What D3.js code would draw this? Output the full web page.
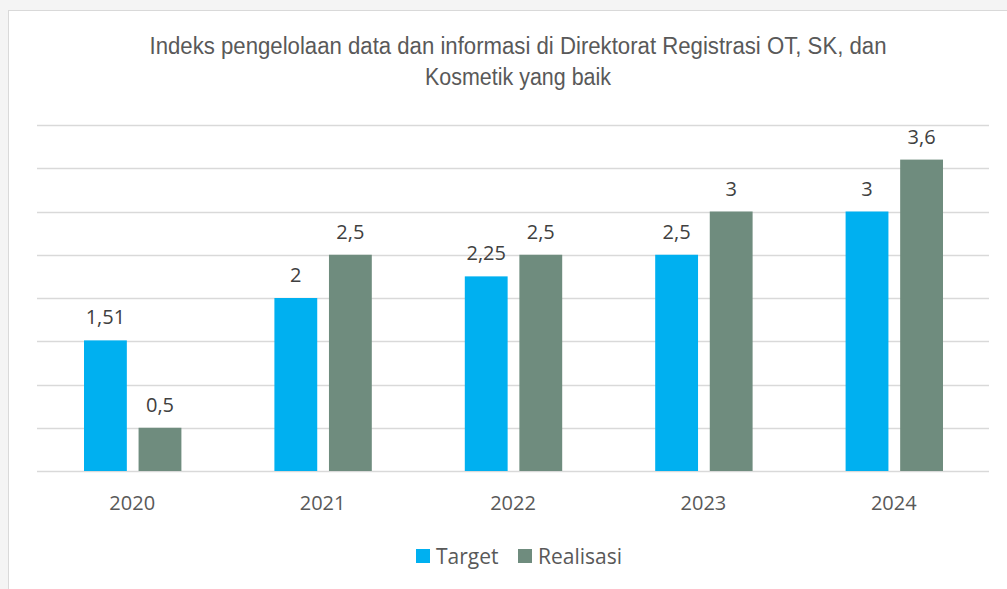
<!DOCTYPE html>
<html>
<head>
<meta charset="utf-8">
<script src="https://cdn.jsdelivr.net/npm/d3@7"></script>
<style>
  body { margin: 0; background: #f4f4f4; }
  svg { display: block; }
</style>
</head>
<body>
<script>
// data
const years = ['2020', '2021', '2022', '2023', '2024'];
const target = [1.51, 2, 2.25, 2.5, 3];
const realisasi = [0.5, 2.5, 2.5, 3, 3.6];
const targetLabels = ['1,51', '2', '2,25', '2,5', '3'];
const realisasiLabels = ['0,5', '2,5', '2,5', '3', '3,6'];
const gridTicks = [0, 0.5, 1, 1.5, 2, 2.5, 3, 3.5, 4];

const series = [
  { name: 'Target', values: target, labels: targetLabels, color: '#00B0F0' },
  { name: 'Realisasi', values: realisasi, labels: realisasiLabels, color: '#6F8C7E' }
];

const W = 1007, H = 589;
const margin = { top: 125, right: 18, bottom: 118, left: 37 };
const width = W - margin.left - margin.right;
const height = H - margin.top - margin.bottom;

const svg = d3.select('body').append('svg')
    .attr('width', W)
    .attr('height', H);

// chart area background + border
svg.append('rect')
    .attr('x', 8.5).attr('y', 10.5)
    .attr('width', W + 10).attr('height', H + 10)
    .attr('fill', '#fff')
    .attr('stroke', '#d9d9d9');

const title = svg.append('g')
    .attr('font-family', 'Liberation Sans, Arial, sans-serif')
    .attr('font-size', 23)
    .attr('fill', '#595959')
    .attr('text-anchor', 'middle');

title.append('text')
    .attr('x', 518).attr('y', 54)
    .attr('textLength', 737)
    .attr('lengthAdjust', 'spacingAndGlyphs')
    .text('Indeks pengelolaan data dan informasi di Direktorat Registrasi OT, SK, dan');

title.append('text')
    .attr('x', 518).attr('y', 85)
    .attr('textLength', 186)
    .attr('lengthAdjust', 'spacingAndGlyphs')
    .text('Kosmetik yang baik');

const g = svg.append('g')
    .attr('transform', `translate(${margin.left}, ${margin.top})`);

const x = d3.scaleBand()
    .domain(years)
    .range([0, width]);

const x1 = d3.scaleBand()
    .domain(series.map(s => s.name))
    .range([47, x.bandwidth() - 46])
    .paddingInner(0.215);

const y = d3.scaleLinear()
    .domain([0, 4])
    .range([height, 0]);

// gridlines
g.append('g')
    .selectAll('line')
    .data(gridTicks)
  .join('line')
    .attr('x1', 0)
    .attr('x2', width)
    .attr('y1', d => Math.round(y(d)) + 0.5)
    .attr('y2', d => Math.round(y(d)) + 0.5)
    .attr('stroke', '#d9d9d9')
    .attr('stroke-width', 1.5);

const groups = g.selectAll('.year')
    .data(years)
  .join('g')
    .attr('class', 'year')
    .attr('transform', d => `translate(${x(d)}, 0)`);

groups.selectAll('rect')
    .data((d, i) => series.map(s => ({ s, v: s.values[i], label: s.labels[i] })))
  .join('rect')
    .attr('x', d => x1(d.s.name))
    .attr('width', x1.bandwidth())
    .attr('y', d => y(d.v))
    .attr('height', d => y(0) - y(d.v))
    .attr('fill', d => d.s.color);

groups.selectAll('.lbl')
    .data((d, i) => series.map(s => ({ s, v: s.values[i], label: s.labels[i] })))
  .join('text')
    .attr('class', 'lbl')
    .attr('x', d => x1(d.s.name) + x1.bandwidth() / 2)
    .attr('y', d => y(d.v) - 16)
    .attr('text-anchor', 'middle')
    .attr('font-family', 'Open Sans, Lato, sans-serif')
    .attr('font-size', 20)
    .attr('fill', '#404040')
    .text(d => d.label);

// x axis labels
const xAxis = d3.axisBottom(x).tickSize(0).tickPadding(25);
g.append('g')
    .attr('transform', `translate(0, ${height})`)
    .call(xAxis)
    .call(a => a.select('.domain').remove())
    .selectAll('text')
    .attr('font-family', 'Open Sans, Lato, sans-serif')
    .attr('font-size', 20)
    .attr('fill', '#595959');

// legend
const legend = svg.append('g');
const legendX = [416, 518];
series.forEach((s, i) => {
  legend.append('rect')
      .attr('x', legendX[i]).attr('y', 549)
      .attr('width', 14).attr('height', 14)
      .attr('fill', s.color);
  legend.append('text')
      .attr('x', legendX[i] + 20).attr('y', 564)
      .attr('font-family', 'Open Sans, Lato, sans-serif')
      .attr('font-size', 21)
      .attr('fill', '#595959')
      .text(s.name);
});
</script>
</body>
</html>
